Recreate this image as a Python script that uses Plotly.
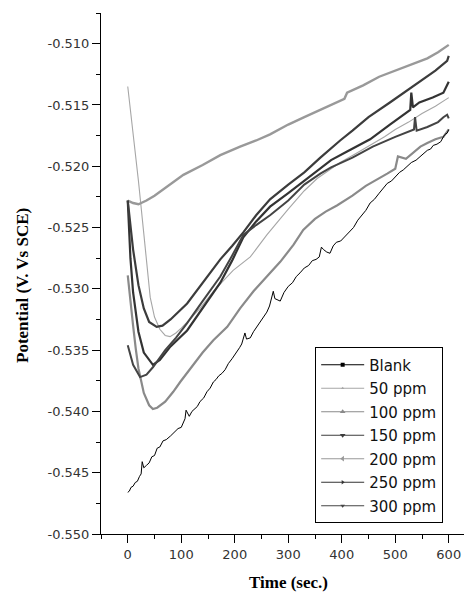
import plotly.graph_objects as go

# ---------------- data ----------------
series_names = ["Blank", "50 ppm", "100 ppm", "150 ppm", "200 ppm", "250 ppm", "300 ppm"]

t_blank = [0, 3, 6, 10, 14, 18, 22, 25, 27, 30, 35, 40, 45, 50, 55, 60, 66, 72, 80, 87, 94, 100, 107, 109, 115,
           120, 125, 130, 135, 142, 148, 154, 160, 165, 170, 176, 182, 188, 195, 200, 205, 209, 213, 219, 222,
           229, 235, 240, 248, 255, 260, 265, 272, 275, 280, 285, 292, 300, 308, 315, 322, 330, 338, 345, 352,
           358, 362, 366, 372, 378, 384, 390, 398, 405, 413, 422, 430, 437, 445, 453, 461, 470, 478, 485, 493,
           500, 508, 515, 523, 530, 539, 547, 553, 560, 566, 571, 578, 585, 590, 593, 597, 600]
v_blank = [-0.5466, -0.5465, -0.5462, -0.5461, -0.5458, -0.5457, -0.5453, -0.5451, -0.5441, -0.5446, -0.5444,
           -0.5442, -0.5437, -0.5436, -0.5430, -0.5429, -0.5424, -0.5423, -0.5420, -0.5417, -0.5414, -0.5413,
           -0.5406, -0.5399, -0.5404, -0.5400, -0.5398, -0.5396, -0.5392, -0.5389, -0.5384, -0.5381, -0.5376,
           -0.5374, -0.5371, -0.5369, -0.5366, -0.5361, -0.5357, -0.5354, -0.5350, -0.5348, -0.5345, -0.5336,
           -0.5341, -0.5340, -0.5335, -0.5332, -0.5327, -0.5322, -0.5319, -0.5314, -0.5302, -0.5308, -0.5309,
           -0.5310, -0.5303, -0.5298, -0.5295, -0.5290, -0.5287, -0.5283, -0.5281, -0.5277, -0.5276, -0.5274,
           -0.5266, -0.5268, -0.5270, -0.5271, -0.5265, -0.5262, -0.5261, -0.5258, -0.5254, -0.5250, -0.5244,
           -0.5240, -0.5236, -0.5230, -0.5227, -0.5222, -0.5218, -0.5214, -0.5212, -0.5209, -0.5205, -0.5203,
           -0.5200, -0.5197, -0.5195, -0.5192, -0.5190, -0.5187, -0.5186, -0.5183, -0.5182, -0.5180, -0.5176,
           -0.5174, -0.5173, -0.5170]

t_50 = [0, 10, 20, 30, 42, 50, 60, 70, 79, 90, 100, 120, 135, 160, 197, 229, 260, 300, 330, 354, 380, 397,
        425, 453, 480, 500, 525, 550, 575, 600]
v_50 = [-0.5135, -0.5173, -0.5212, -0.5255, -0.5307, -0.5323, -0.5333, -0.5338, -0.5339, -0.5336, -0.5332,
        -0.5323, -0.5316, -0.5302, -0.5285, -0.5274, -0.5256, -0.5235, -0.5220, -0.5210, -0.5202, -0.5197,
        -0.5190, -0.5183, -0.5176, -0.5170, -0.5164, -0.5157, -0.5151, -0.5144]

t_100 = [0, 5, 10, 15, 20, 30, 40, 47, 55, 70, 85, 98, 120, 140, 160, 186, 210, 235, 260, 285, 310, 328, 350,
         370, 391, 420, 445, 466, 485, 500, 505, 520, 535, 547, 560, 575, 590, 600]
v_100 = [-0.5289, -0.5312, -0.5330, -0.5349, -0.5365, -0.5385, -0.5395, -0.5398, -0.5397, -0.5392, -0.5384,
         -0.5376, -0.5363, -0.5352, -0.5342, -0.5331, -0.5316, -0.5302, -0.5290, -0.5278, -0.5264, -0.5252,
         -0.5243, -0.5237, -0.5232, -0.5224, -0.5216, -0.5211, -0.5206, -0.5202, -0.5192, -0.5194, -0.5188,
         -0.5184, -0.5181, -0.5178, -0.5176, -0.5170]

t_150 = [0, 5, 10, 20, 30, 40, 54, 65, 80, 111, 140, 173, 195, 216, 240, 266, 300, 330, 360, 380, 397, 420,
         450, 490, 520, 550, 575, 597, 600]
v_150 = [-0.5228, -0.5250, -0.5268, -0.5297, -0.5316, -0.5327, -0.5331, -0.5330, -0.5325, -0.5312, -0.5295,
         -0.5276, -0.5265, -0.5254, -0.5240, -0.5227, -0.5215, -0.5205, -0.5193, -0.5185, -0.5179, -0.5171,
         -0.5160, -0.5148, -0.5139, -0.5130, -0.5122, -0.5114, -0.5110]

t_200 = [0, 10, 20, 35, 50, 75, 104, 140, 173, 210, 240, 266, 300, 330, 360, 380, 400, 405, 410, 440, 470,
         500, 530, 560, 580, 600]
v_200 = [-0.5228, -0.5230, -0.5231, -0.5228, -0.5224, -0.5216, -0.5207, -0.5199, -0.5191, -0.5184, -0.5179,
         -0.5174, -0.5166, -0.5160, -0.5154, -0.5150, -0.5146, -0.5145, -0.5140, -0.5134, -0.5127, -0.5122,
         -0.5117, -0.5112, -0.5107, -0.5101]

t_250 = [0, 5, 10, 20, 30, 47, 60, 80, 111, 140, 173, 195, 216, 240, 266, 300, 330, 360, 380, 410, 453, 490,
         520, 528, 530, 533, 545, 570, 590, 595, 600]
v_250 = [-0.5228, -0.5275, -0.5303, -0.5335, -0.5352, -0.5362, -0.5358, -0.5347, -0.5334, -0.5316, -0.5295,
         -0.5277, -0.5258, -0.5245, -0.5233, -0.5222, -0.5212, -0.5202, -0.5195, -0.5188, -0.5178, -0.5166,
         -0.5157, -0.5154, -0.5140, -0.5152, -0.5148, -0.5144, -0.5140, -0.5136, -0.5131]

t_300 = [0, 10, 23, 35, 47, 70, 90, 111, 140, 173, 195, 216, 240, 266, 300, 330, 360, 380, 420, 458, 500, 535,
         537, 540, 560, 580, 590, 597, 600]
v_300 = [-0.5346, -0.5362, -0.5372, -0.5370, -0.5364, -0.5350, -0.5340, -0.5328, -0.5310, -0.5290, -0.5273,
         -0.5256, -0.5248, -0.5240, -0.5228, -0.5215, -0.5206, -0.5201, -0.5193, -0.5184, -0.5176, -0.5170,
         -0.5160, -0.5171, -0.5168, -0.5164, -0.5160, -0.5158, -0.5161]

x_ticks = [0, 100, 200, 300, 400, 500, 600]
y_ticks = [-0.550, -0.545, -0.540, -0.535, -0.530, -0.525, -0.520, -0.515, -0.510]
x_title = "Time (sec.)"
y_title = "Potential (V. Vs SCE)"

# ---------------- styles ----------------
times = [t_blank, t_50, t_100, t_150, t_200, t_250, t_300]
values = [v_blank, v_50, v_100, v_150, v_200, v_250, v_300]
colors = ["#000000", "#a6a6a6", "#8a8a8a", "#3c3c3c", "#999999", "#333333", "#444444"]
widths = [1.0, 1.1, 2.2, 2.2, 2.4, 2.2, 2.0]
symbols = ["square", "triangle-up", "triangle-up", "triangle-down", "triangle-left", "triangle-right",
           "triangle-down"]
msizes = [4, 3, 5, 5, 5, 4, 4]
draw_order = [1, 2, 4, 0, 5, 6, 3]

fig = go.Figure()
for i in draw_order:
    fig.add_trace(go.Scatter(x=times[i], y=values[i], mode="lines", name=series_names[i],
                             line=dict(color=colors[i], width=widths[i]), showlegend=False,
                             hoverinfo="skip"))
for i in range(len(series_names)):
    fig.add_trace(go.Scatter(x=[None], y=[None], mode="lines+markers", name=series_names[i],
                             line=dict(color=colors[i], width=1.2),
                             marker=dict(symbol=symbols[i], size=msizes[i], color=colors[i]),
                             legendgroup=series_names[i]))

tick_font = dict(family="DejaVu Sans, sans-serif", size=13, color="#333333")
title_font = dict(family="Liberation Serif, Times New Roman, serif", size=17, color="#000000", weight="bold")

fig.update_layout(
    width=464, height=593,
    margin=dict(l=101, r=0, t=13, b=59),
    paper_bgcolor="white", plot_bgcolor="white",
    showlegend=True,
    legend=dict(x=0.59, y=0.358, xanchor="left", yanchor="top",
                bordercolor="#000000", borderwidth=1, bgcolor="white",
                font=dict(family="DejaVu Sans, sans-serif", size=15, color="#111111"),
                tracegroupgap=1, itemwidth=43),
    xaxis=dict(range=[-50, 628.5], tickvals=x_ticks, ticktext=[str(v) for v in x_ticks],
               showgrid=False, zeroline=False, showline=True, linecolor="#000000", linewidth=1,
               ticks="outside", ticklen=8, tickcolor="#000000", tickfont=tick_font,
               minor=dict(ticks="outside", ticklen=4, dtick=50, tick0=0, tickcolor="#000000")),
    yaxis=dict(range=[-0.550, -0.5075], tickvals=y_ticks, ticktext=["%.3f" % v for v in y_ticks],
               showgrid=False, zeroline=False, showline=True, linecolor="#000000", linewidth=1,
               ticks="outside", ticklen=8, tickcolor="#000000", tickfont=tick_font,
               minor=dict(ticks="outside", ticklen=4, dtick=0.0025, tick0=-0.550, tickcolor="#000000")),
    annotations=[
        dict(text=x_title, xref="paper", yref="paper", x=(288 - 101) / 363, y=(534 - 582) / 521,
             xanchor="center", yanchor="middle", showarrow=False, font=title_font),
        dict(text=y_title, xref="paper", yref="paper", x=(22 - 101) / 363, y=(534 - 286) / 521,
             xanchor="center", yanchor="middle", showarrow=False, textangle=-90, font=title_font),
    ],
)

fig.write_html("out.html")
